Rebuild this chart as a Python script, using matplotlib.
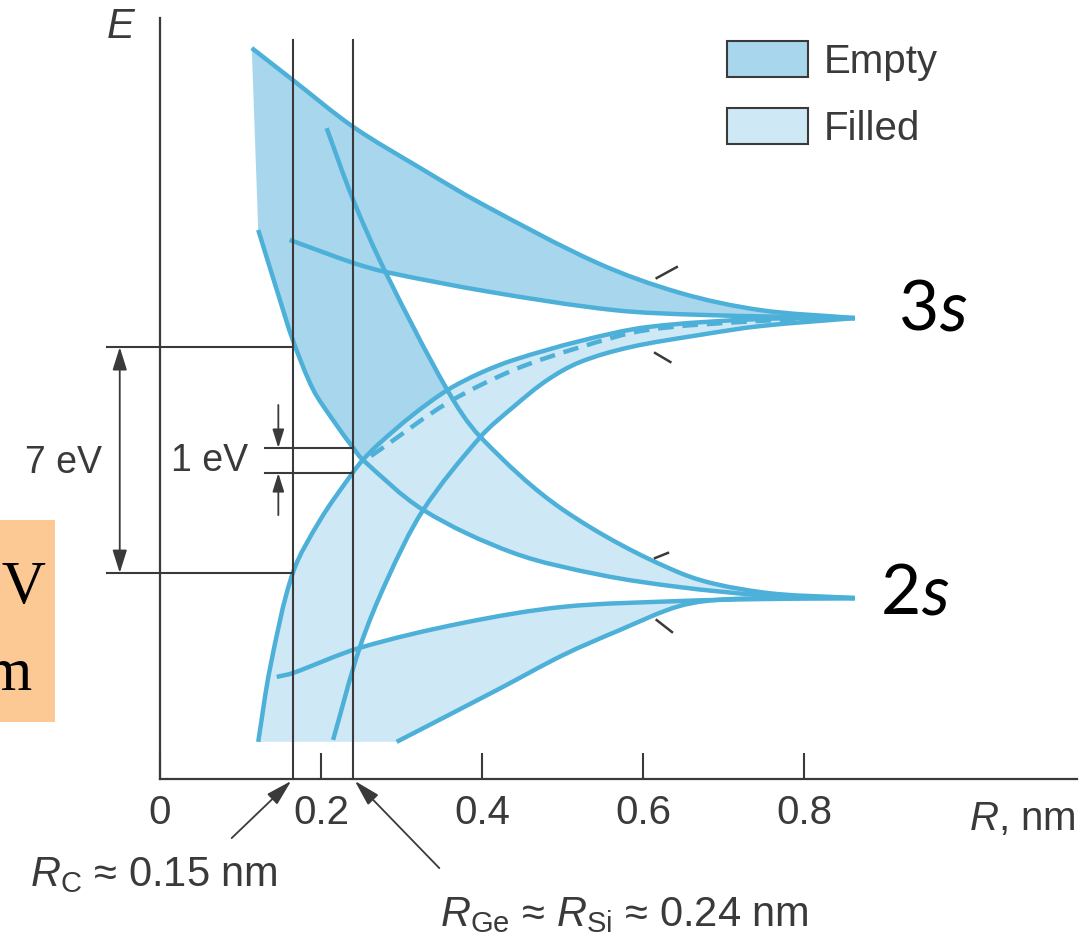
import numpy as np
import matplotlib
matplotlib.use('Agg')
import matplotlib.pyplot as plt
from matplotlib.path import Path
from matplotlib.patches import PathPatch, Patch, Rectangle

plt.rcParams['font.family'] = 'Liberation Sans'
plt.rcParams['mathtext.fontset'] = 'custom'
plt.rcParams['mathtext.rm'] = 'Liberation Sans'
plt.rcParams['mathtext.it'] = 'Liberation Sans:italic'

# energy curves: R in nm, E in eV above the axis
R_A = [0.114, 0.165, 0.240, 0.323, 0.398, 0.543, 0.646, 0.745, 0.863]
E_A = [22.63, 21.64, 20.19, 18.92, 17.83, 15.98, 15.05, 14.52, 14.27]
R_D = [0.161, 0.240, 0.280, 0.410, 0.563, 0.671, 0.863]
E_D = [16.69, 15.98, 15.70, 15.08, 14.52, 14.37, 14.27]
R_B = [0.122, 0.149, 0.165, 0.190, 0.215, 0.240, 0.252, 0.327, 0.439, 0.547, 0.646, 0.745, 0.863]
E_B = [17.00, 14.83, 13.59, 12.07, 11.11, 10.25, 9.88, 8.33, 7.00, 6.32, 5.94, 5.70, 5.60]
R_C = [0.207, 0.240, 0.280, 0.357, 0.398, 0.501, 0.646, 0.745, 0.863]
E_C = [20.15, 17.93, 15.70, 12.04, 10.59, 8.33, 6.38, 5.79, 5.60]
R_E = [0.122, 0.137, 0.165, 0.199, 0.239, 0.252, 0.273, 0.314, 0.357, 0.398, 0.439,
       0.522, 0.605, 0.745, 0.863]
E_E = [1.15, 3.47, 6.38, 8.02, 9.47, 9.88, 10.40, 11.27, 12.04, 12.57, 12.97,
       13.56, 13.99, 14.24, 14.27]
R_F = [0.215, 0.248, 0.282, 0.327, 0.398, 0.439, 0.481, 0.522, 0.584, 0.671, 0.745, 0.863]
E_F = [1.21, 4.06, 6.16, 8.33, 10.59, 11.52, 12.35, 12.91, 13.37, 13.75, 14.02, 14.27]
R_G = [0.145, 0.165, 0.248, 0.376, 0.501, 0.646, 0.745, 0.863]
E_G = [3.16, 3.28, 4.06, 4.83, 5.33, 5.51, 5.57, 5.60]
R_H = [0.294, 0.419, 0.501, 0.571, 0.646, 0.708, 0.863]
E_H = [1.15, 2.76, 3.84, 4.61, 5.36, 5.57, 5.60]
R_dash = [0.262, 0.273, 0.357, 0.439, 0.522, 0.605, 0.745, 0.863]
E_dash = [10.00, 10.19, 11.64, 12.66, 13.37, 13.90, 14.18, 14.27]

# little tick marks next to the bands
marks_R = [(0.617, 0.642), (0.615, 0.634), (0.615, 0.631), (0.617, 0.636)]
marks_E = [(15.51, 15.85), (13.19, 12.91), (6.84, 7.00), (4.92, 4.55)]

r_carbon, r_ge = 0.165, 0.240
gap_big = (6.38, 13.37)
gap_small = (9.47, 10.25)
xticks = [0, 0.2, 0.4, 0.6, 0.8]
xticklabels = ['0', '0.2', '0.4', '0.6', '0.8']

line_c = '#4db0d8'
empty_c = '#a8d6ec'
filled_c = '#cfe8f5'
ink = '#3a3a3a'


def bezier(r, e):
    p = np.column_stack([r, e]).astype(float)
    s = p * [1.0, 0.04]
    d = np.hypot(*np.diff(s, axis=0).T)
    n = len(p)
    t = np.zeros_like(p)
    t[0] = (p[1] - p[0]) / d[0]
    t[-1] = (p[-1] - p[-2]) / d[-1]
    for i in range(1, n - 1):
        t[i] = (p[i + 1] - p[i - 1]) / (d[i - 1] + d[i])
    v = [p[0]]
    for i in range(n - 1):
        v += [p[i] + t[i] * d[i] / 3, p[i + 1] - t[i + 1] * d[i] / 3, p[i + 1]]
    return np.array(v)


def piece(V, i, j):
    if i <= j:
        return V[3 * i:3 * j + 1]
    return V[3 * j:3 * i + 1][::-1]


def region(pieces):
    verts, codes = [], []
    for v in pieces:
        if not verts:
            verts.append(v[0]); codes.append(Path.MOVETO)
        elif not np.allclose(verts[-1], v[0]):
            verts.append(v[0]); codes.append(Path.LINETO)
        verts.extend(v[1:]); codes.extend([Path.CURVE4] * (len(v) - 1))
    verts.append(verts[0]); codes.append(Path.CLOSEPOLY)
    return Path(verts, codes)


A = bezier(R_A, E_A); D = bezier(R_D, E_D); B = bezier(R_B, E_B)
C = bezier(R_C, E_C); E = bezier(R_E, E_E); F = bezier(R_F, E_F)
G = bezier(R_G, E_G); H = bezier(R_H, E_H); DS = bezier(R_dash, E_dash)

fig = plt.figure(figsize=(10.82, 9.39), dpi=100)
ax = fig.add_axes([160 / 1082, 1 - 779 / 939, 917 / 1082, 761 / 939])
ax.set_xlim(0, 917 / 805)
ax.set_ylim(0, 761 / 32.3)

# fills (crossing indices: B/E 6,5  C/E 3,8  D/C 2,2  C/F 4,4  B/F 7,3  G/F 2,1)
ax.add_patch(PathPatch(region([piece(B, 0, 6), piece(E, 5, 14), piece(A, 8, 0)]),
                       facecolor=empty_c, edgecolor='none', zorder=1))
ax.add_patch(PathPatch(region([piece(H, 0, 6), piece(C, 8, 4), piece(F, 4, 11), piece(E, 14, 0)]),
                       facecolor=filled_c, edgecolor='none', zorder=1))
ax.add_patch(PathPatch(region([piece(D, 2, 6), piece(E, 14, 8), piece(C, 3, 2)]),
                       facecolor='white', edgecolor='none', zorder=2))
ax.add_patch(PathPatch(region([piece(B, 7, 12), piece(G, 7, 2), piece(F, 1, 3)]),
                       facecolor='white', edgecolor='none', zorder=2))

# curves
for V in [A, D, B, C, E, F, G, H]:
    ax.add_patch(PathPatch(Path(V, [Path.MOVETO] + [Path.CURVE4] * (len(V) - 1)),
                           fill=False, edgecolor=line_c, lw=3.2, zorder=3))
ax.add_patch(PathPatch(Path(DS, [Path.MOVETO] + [Path.CURVE4] * (len(DS) - 1)),
                       fill=False, edgecolor=line_c, lw=3.2, ls=(0, (3.5, 2)), zorder=3))

for mr, me in zip(marks_R, marks_E):
    ax.plot(mr, me, color=ink, lw=1.8, zorder=4, clip_on=False)

# radius lines
for r in (r_carbon, r_ge):
    ax.plot([r, r], [0, 22.88], color=ink, lw=1.5, zorder=4, clip_on=False)

# 7 eV marker
for e in gap_big:
    ax.plot([-0.066, r_carbon], [e, e], color=ink, lw=1.5, zorder=4, clip_on=False)
ax.annotate('', xy=(-0.050, gap_big[0]), xytext=(-0.050, gap_big[1]),
            arrowprops=dict(arrowstyle='<|-|>,head_length=0.7,head_width=0.22', color=ink,
                            lw=1.3, shrinkA=0, shrinkB=0, mutation_scale=20),
            annotation_clip=False)
ax.text(-0.072, 9.78, '7 eV', ha='right', va='center', fontsize=27, color=ink, clip_on=False)

# 1 eV marker
for e in gap_small:
    ax.plot([0.130, r_ge], [e, e], color=ink, lw=1.5, zorder=4)
ax.annotate('', xy=(0.147, gap_small[1]), xytext=(0.147, 11.58),
            arrowprops=dict(arrowstyle='-|>,head_length=0.7,head_width=0.22', color=ink,
                            lw=1.3, shrinkA=0, shrinkB=0, mutation_scale=16))
ax.annotate('', xy=(0.147, gap_small[0]), xytext=(0.147, 8.17),
            arrowprops=dict(arrowstyle='-|>,head_length=0.7,head_width=0.22', color=ink,
                            lw=1.3, shrinkA=0, shrinkB=0, mutation_scale=16))
ax.text(0.061, 9.83, '1 eV', ha='center', va='center', fontsize=27, color=ink)

# axes
for side in ('top', 'right'):
    ax.spines[side].set_visible(False)
for side in ('left', 'bottom'):
    ax.spines[side].set_color(ink)
    ax.spines[side].set_linewidth(1.6)
ax.set_yticks([])
ax.set_xticks(xticks, xticklabels)
ax.tick_params(axis='x', direction='in', length=19, width=1.5, color=ink,
               labelsize=29, labelcolor=ink, pad=11)
ax.text(-0.048, 23.28, '$E$', ha='center', va='center', fontsize=30, color=ink, clip_on=False)
ax.text(1.137, -1.25, '$R$, nm', ha='right', va='center', fontsize=29, color=ink, clip_on=False)

# radius labels
ax.annotate('', xy=(0.163, -0.06), xytext=(0.089, -1.83),
            arrowprops=dict(arrowstyle='-|>,head_length=0.8,head_width=0.22', color=ink,
                            lw=1.3, shrinkA=0, shrinkB=0, mutation_scale=20),
            annotation_clip=False)
ax.annotate('', xy=(0.242, -0.06), xytext=(0.347, -2.76),
            arrowprops=dict(arrowstyle='-|>,head_length=0.8,head_width=0.22', color=ink,
                            lw=1.3, shrinkA=0, shrinkB=0, mutation_scale=20),
            annotation_clip=False)
ax.text(-0.161, -2.97, r'$R_{\mathrm{C}}$ ≈ 0.15 nm', ha='left', va='center',
        fontsize=30, color=ink, clip_on=False)
ax.text(0.348, -4.21, r'$R_{\mathrm{Ge}}$ ≈ $R_{\mathrm{Si}}$ ≈ 0.24 nm', ha='left', va='center',
        fontsize=30, color=ink, clip_on=False)

# level names
ax.text(0.918, 14.50, '3', ha='left', va='center', fontsize=50, family='Lato', color='black')
ax.text(0.968, 14.50, 's', ha='left', va='center', fontsize=50, family='Lato', style='italic', color='black')
ax.text(0.895, 5.70, '2', ha='left', va='center', fontsize=50, family='Lato', color='black')
ax.text(0.945, 5.70, 's', ha='left', va='center', fontsize=50, family='Lato', style='italic', color='black')

# legend
handles = [Patch(facecolor=empty_c, edgecolor=ink, lw=1.5, label='Empty'),
           Patch(facecolor=filled_c, edgecolor=ink, lw=1.5, label='Filled')]
ax.legend(handles=handles, loc='upper left', bbox_to_anchor=(727 / 1082, 1 - 41 / 939),
          bbox_transform=fig.transFigure, frameon=False, fontsize=29, borderpad=0,
          borderaxespad=0, handlelength=2.0, handleheight=1.0, handletextpad=0.4,
          labelspacing=0.68, labelcolor=ink)

# orange box clipped at the left edge
fig.patches.append(Rectangle((0, 1 - 722 / 939), 55 / 1082, 202 / 939,
                             transform=fig.transFigure, facecolor='#fcc995', edgecolor='none'))
fig.text(46 / 1082, 1 - 588 / 939, '1 eV', ha='right', va='center', fontsize=44,
         family='Liberation Serif', color='black')
fig.text(32 / 1082, 1 - 675 / 939, '0.24 nm', ha='right', va='center', fontsize=44,
         family='Liberation Serif', color='black')

fig.savefig('out.png', dpi=100)
